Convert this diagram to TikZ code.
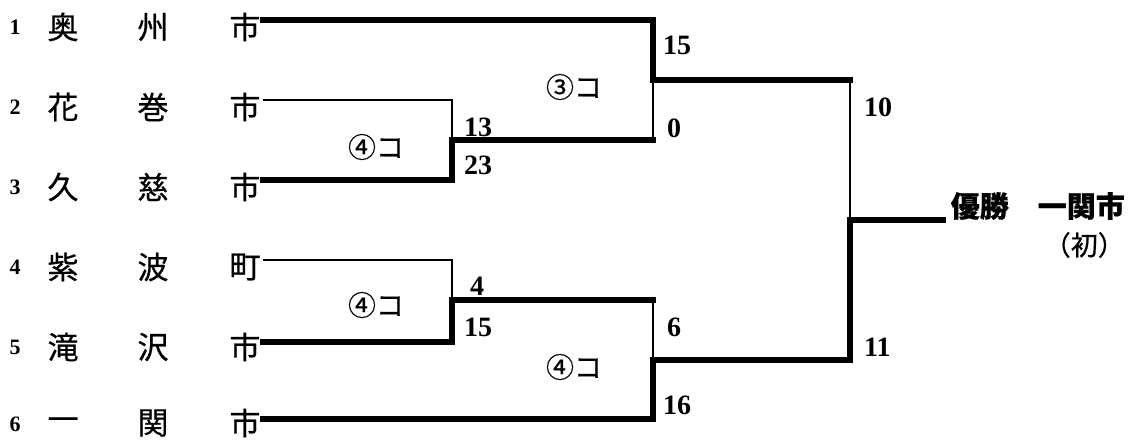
\documentclass[tikz,border=0pt]{standalone}
\usepackage{fontspec}
\setmainfont{Liberation Serif}
\newfontfamily\jp[FakeBold=0.6]{Noto Sans CJK JP}
\begin{document}
\begin{tikzpicture}
    [
        x = 1pt, y = -1pt,
        team/.style  = {font=\jp\fontsize{31}{31}\selectfont, inner sep=0pt},
        seed/.style  = {font=\bfseries\fontsize{22}{22}\selectfont, inner sep=0pt},
        score/.style = {font=\bfseries\fontsize{28}{28}\selectfont, inner sep=0pt, anchor=west},
        inning/.style = {font=\jp\fontsize{28}{28}\selectfont, inner sep=0pt},
        win/.style   = {line width=5.5pt, line cap=rect},
        lose/.style  = {line width=2.2pt}
    ]
    \useasboundingbox (0,0) rectangle (1130,440);

    % teams
    \node [seed] at (15,27) (n1) {1};
    \node [team] at (63,27) (a1) {奥};
    \node [team] at (153,27) (b1) {州};
    \node [team] at (245,27) (c1) {市};
    \node [seed] at (15,107) (n2) {2};
    \node [team] at (63,107) (a2) {花};
    \node [team] at (153,107) (b2) {巻};
    \node [team] at (245,107) (c2) {市};
    \node [seed] at (15,187) (n3) {3};
    \node [team] at (63,187) (a3) {久};
    \node [team] at (153,187) (b3) {慈};
    \node [team] at (245,187) (c3) {市};
    \node [seed] at (15,267) (n4) {4};
    \node [team] at (63,267) (a4) {紫};
    \node [team] at (153,267) (b4) {波};
    \node [team] at (245,267) (c4) {町};
    \node [seed] at (15,347) (n5) {5};
    \node [team] at (63,347) (a5) {滝};
    \node [team] at (153,347) (b5) {沢};
    \node [team] at (245,347) (c5) {市};
    \node [seed] at (15,424) (n6) {6};
    \node [team] at (63,424) (a6) {一};
    \node [team] at (153,423) (b6) {関};
    \node [team] at (245,423) (c6) {市};

    \coordinate (s1) at (263,20);
    \coordinate (s2) at (263,100);
    \coordinate (s3) at (263,180);
    \coordinate (s4) at (263,260);
    \coordinate (s5) at (263,342);
    \coordinate (s6) at (263,419);
    \coordinate (g23) at (452,140);
    \coordinate (g45) at (452,300);
    \coordinate (g123) at (653,80);
    \coordinate (g456) at (653,360);
    \coordinate (final) at (850,220);
    \coordinate (champ) at (943,220);

    % bracket
    \draw [lose] (s2) -| (g23);
    \draw [win] (s3) -| (g23);
    \draw [win] (g23) -- (g23 -| g123);
    \draw [lose] (g23 -| g123) -- (g123);
    \draw [win] (s1) -| (g123);
    \draw [win] (g123) -- (g123 -| final);
    \draw [lose] (g123 -| final) -- (final);
    \draw [lose] (s4) -| (g45);
    \draw [win] (s5) -| (g45);
    \draw [win] (g45) -- (g45 -| g456);
    \draw [lose] (g45 -| g456) -- (g456);
    \draw [win] (s6) -| (g456);
    \draw [win] (g456) -| (final);
    \draw [win] (final) -- (champ);

    % scores
    \node [score] at (464,127) (p13) {13};
    \node [score] at (464,165) (p23) {23};
    \node [score] at (663,45) (p15) {15};
    \node [score] at (667,128) (p0) {0};
    \node [score] at (470,286) (p4) {4};
    \node [score] at (464,327) (p15b) {15};
    \node [score] at (667,327) (p6) {6};
    \node [score] at (663,405) (p16) {16};
    \node [score] at (864,107) (p10) {10};
    \node [score] at (864,347) (p11) {11};

    \node [inning] at (376,147) (r1) {④コ};
    \node [inning] at (574,87) (r2) {③コ};
    \node [inning] at (376,305) (r3) {④コ};
    \node [inning] at (574,367) (r4) {④コ};

    \node [team, font=\jp\bfseries\fontsize{29}{29}\selectfont, anchor=east] at (1125,206) (winner) {優勝　一関市};
    \node [team, font=\jp\fontsize{27}{27}\selectfont, anchor=east] at (1125,245) (first) {（初）};
\end{tikzpicture}
\end{document}
